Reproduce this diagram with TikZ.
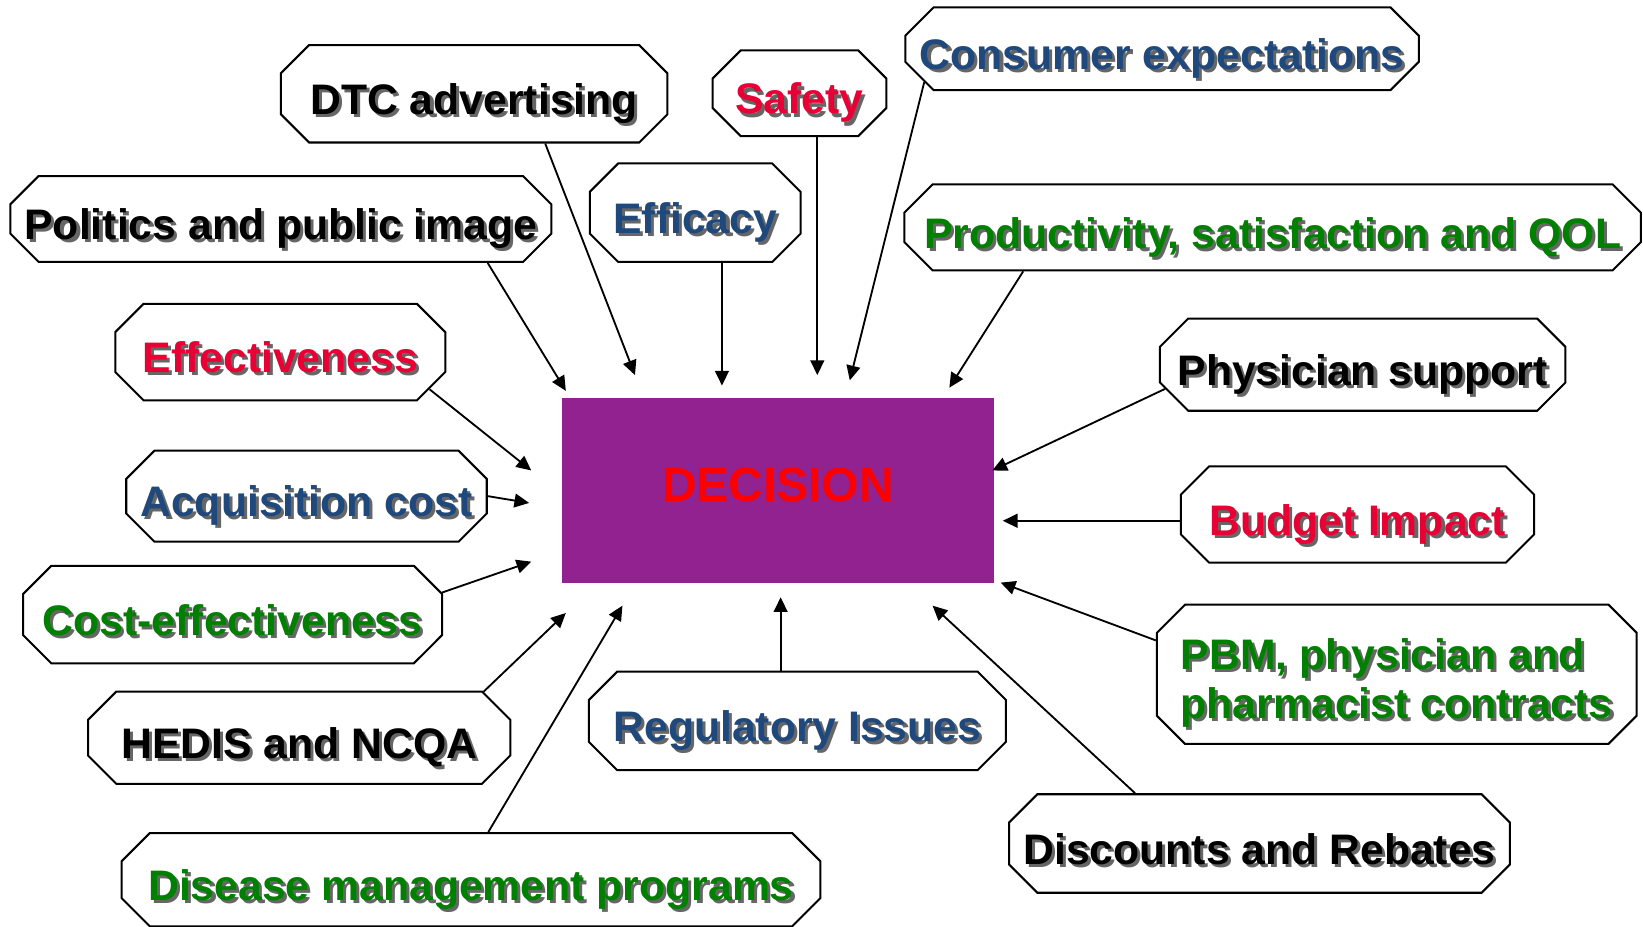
\documentclass[tikz,border=0pt]{standalone}
\usepackage{fontspec}
\setmainfont{Liberation Sans}
\usetikzlibrary{shapes.misc, arrows.meta, positioning}
\definecolor{decpurple}{RGB}{146,34,143}
\definecolor{factred}{RGB}{232,0,52}
\definecolor{factblue}{RGB}{31,73,125}
\definecolor{factgreen}{RGB}{0,128,0}
\newcommand{\txtshadow}[1]{\leavevmode\rlap{\kern1.7pt\raisebox{-1.7pt}{\textcolor{black!60}{#1}}}#1}

\begin{document}
\begin{tikzpicture}[x=0.02cm, y={(0cm,-0.02cm)},
    factor/.style={chamfered rectangle, chamfered rectangle sep=0.27cm, draw, line width=1.1pt,
      fill=white, inner sep=0pt, text height=23pt, text depth=0.5pt,
      font=\fontsize{23.2}{27}\selectfont\bfseries},
    boxsize/.style 2 args={minimum width={#1*0.02cm}, minimum height={#2*0.02cm}},
    feed/.style={-{Triangle[length=8pt,width=7.5pt]}, line width=1pt}]
        \useasboundingbox (0,0) rectangle (1568,884);

        % Decision box
        \node[fill=decpurple, minimum width={413*0.02cm}, minimum height={176*0.02cm}, inner sep=0pt,
          text height=12pt, text depth=0.2pt,
          text=red, font=\fontsize{26}{28}\selectfont\bfseries] (decision) at (742.5,468) {DECISION};

        % Factors, top row
        \node[factor, boxsize={369}{93}] (dtc) at (452.5,89.5) {\txtshadow{DTC advertising}};
        \node[factor, boxsize={166}{82}, text=factred] (safety) at (763,89) {\txtshadow{Safety}};
        \node[factor, boxsize={490}{79}, text=factblue] (consumer) at (1109,46.5) {\txtshadow{Consumer expectations}};
        \node[factor, boxsize={516}{82}] (politics) at (268,209) {\txtshadow{Politics and public image}};
        \node[factor, boxsize={201}{94}, text=factblue] (efficacy) at (663.5,203) {\txtshadow{Efficacy}};
        \node[factor, boxsize={703}{82}, text=factgreen] (productivity) at (1214.5,217) {\txtshadow{Productivity, satisfaction and QOL}};

        % Factors, left side
        \node[factor, boxsize={315}{92}, text=factred] (effectiveness) at (267.5,336) {\txtshadow{Effectiveness}};
        \node[factor, boxsize={341}{87}, text=factblue] (acquisition) at (292.5,473.5) {\txtshadow{Acquisition cost}};
        \node[factor, boxsize={400}{93}, text=factgreen] (costeff) at (222,586.5) {\txtshadow{Cost-effectiveness}};
        \node[factor, boxsize={403}{88}] (hedis) at (285.5,704) {\txtshadow{HEDIS and NCQA}};
        \node[factor, boxsize={667}{89}, text=factgreen] (disease) at (449.5,839.5) {\txtshadow{Disease management programs}};

        % Factors, right side and bottom
        \node[factor, boxsize={387}{88}] (physician) at (1300.5,348) {\txtshadow{Physician support}};
        \node[factor, boxsize={337}{92}, text=factred] (budget) at (1295.5,491) {\txtshadow{Budget Impact}};
        \node[factor, boxsize={458}{133}, text=factgreen, align=left, text height=52pt, text depth=4.4pt,
          font=\fontsize{23.2}{26.5}\selectfont\bfseries] (pbm) at (1333,643.5)
          {\txtshadow{PBM, physician and}\\\txtshadow{pharmacist contracts}};
        \node[factor, boxsize={398}{94}, text=factblue] (regulatory) at (761,688) {\txtshadow{Regulatory Issues}};
        \node[factor, boxsize={478}{94}] (discounts) at (1202,805) {\txtshadow{Discounts and Rebates}};

        % Arrow tips near the decision box
        \coordinate (t-dtc) at (606,358);
        \coordinate (t-efficacy) at (689,368);
        \coordinate (t-safety) at (780,358);
        \coordinate (t-consumer) at (811,363);
        \coordinate (t-productivity) at (906,370);
        \coordinate (t-politics) at (540,373);
        \coordinate (t-effectiveness) at (507,449);
        \coordinate (t-acquisition) at (505,480);
        \coordinate (t-costeff) at (507,536);
        \coordinate (t-hedis) at (540,585);
        \coordinate (t-disease) at (594,578);
        \coordinate (t-regulatory) at (745,570);
        \coordinate (t-discounts) at (890,578);
        \coordinate (t-pbm) at (955,556);
        \coordinate (t-budget) at (957,497);
        \coordinate (t-physician) at (947,449);

        % Arrows
        \draw[feed] (dtc.-35) -- (t-dtc);
        \draw[feed] (efficacy.south -| t-efficacy) -- (t-efficacy);
        \draw[feed] (safety.south -| t-safety) -- (t-safety);
        \draw[feed] (consumer.-172) -- (t-consumer);
        \draw[feed] (productivity.-170.4) -- (t-productivity);
        \draw[feed] (politics.-12.4) -- (t-politics);
        \draw[feed] (effectiveness.-14.2) -- (t-effectiveness);
        \draw[feed] (acquisition.east) -- (t-acquisition);
        \draw[feed] (costeff.6.1) -- (t-costeff);
        \draw[feed] (hedis.14.2) -- (t-hedis);
        \draw[feed] (disease.70.8) -- (t-disease);
        \draw[feed] (regulatory.north -| t-regulatory) -- (t-regulatory);
        \draw[feed] (discounts.158) -- (t-discounts);
        \draw[feed] (pbm.172.7) -- (t-pbm);
        \draw[feed] (budget.west |- t-budget) -- (t-budget);
        \draw[feed] (physician.-173.8) -- (t-physician);
    \end{tikzpicture}
\end{document}
